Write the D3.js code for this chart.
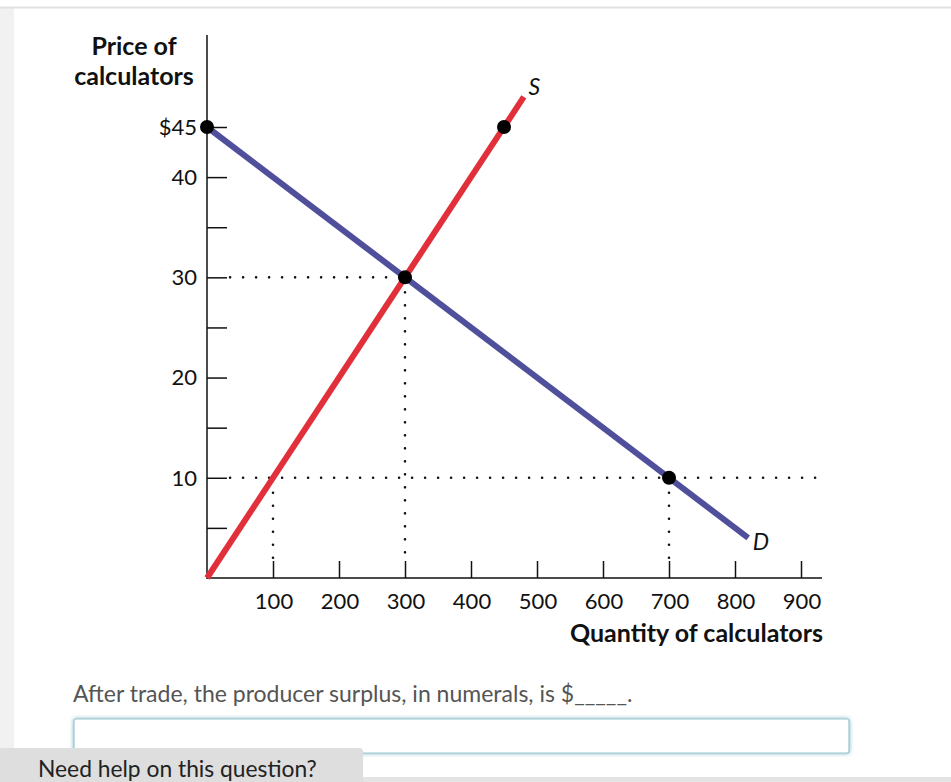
<!DOCTYPE html>
<html><head><meta charset="utf-8">
<script src="https://cdn.jsdelivr.net/npm/d3@7"></script>
<style>
html,body{margin:0;padding:0;background:#fff;}
svg{display:block;font-family:"Source Sans Pro","Lato","Noto Sans",sans-serif;}
</style></head>
<body>
<svg id="c" width="951" height="782"></svg>
<script>
// ---- data ----
const xTickValues = [100,200,300,400,500,600,700,800,900];
const yTickValues = [5,10,15,20,25,30,35,40,45];
const yTickLabels = {45:"$45",40:"40",30:"30",20:"20",10:"10"};
const supplyQ = [0, 480];
const supplyP = [0, 48];
const demandQ = [0, 820];
const demandP = [45, 4];
const pointQ = [0, 450, 300, 700];
const pointP = [45, 45, 30, 10];
const question = "After trade, the producer surplus, in numerals, is $_____.";

const svg = d3.select("#c");
// page chrome
svg.append("rect").attr("x",0).attr("y",0).attr("width",951).attr("height",782).attr("fill","#fff");
svg.append("rect").attr("x",0).attr("y",8).attr("width",14).attr("height",774).attr("fill","#f1f1f1");
svg.append("line").attr("x1",0).attr("x2",951).attr("y1",7.5).attr("y2",7.5).attr("stroke","#e2e2e2").attr("stroke-width",2);
svg.append("rect").attr("x",0).attr("y",777).attr("width",951).attr("height",5).attr("fill","#e4e4e4");

const x = d3.scaleLinear().domain([0,900]).range([207,801]);
const y = d3.scaleLinear().domain([0,45]).range([578,127]);

const g = svg.append("g");
// dotted guides
const dot = (q1,p1,q2,p2)=>g.append("line")
  .attr("x1",x(q1)).attr("y1",y(p1)).attr("x2",x(q2)).attr("y2",y(p2))
  .attr("stroke","#111").attr("stroke-width",2.6).attr("stroke-linecap","round")
  .attr("stroke-dasharray","0,13");
dot(0+35,30,300,30);
dot(300,30-1.5,300,0+1.5);
dot(0+35,10,925,10);
dot(100,10-1.5,100,0+1.5);
dot(700,10-1.5,700,0+1.5);

// axes
const yAxis = d3.axisRight(y).tickValues(yTickValues).tickSize(20).tickFormat("");
const ya = g.append("g").attr("transform",`translate(${x(0)},0)`).call(yAxis);
ya.select(".domain").remove();
ya.selectAll("line").attr("stroke","#111").attr("stroke-width",1.5);
g.append("line").attr("x1",x(0)).attr("x2",x(0)).attr("y1",35).attr("y2",579).attr("stroke","#111").attr("stroke-width",1.5);

const xAxis = d3.axisTop(x).tickValues(xTickValues).tickSize(17).tickFormat("");
const xa = g.append("g").attr("transform",`translate(0,${y(0)})`).call(xAxis);
xa.select(".domain").remove();
xa.selectAll("line").attr("stroke","#111").attr("stroke-width",1.5);
g.append("line").attr("x1",x(0)).attr("x2",822).attr("y1",y(0)).attr("y2",y(0)).attr("stroke","#111").attr("stroke-width",1.5);

// tick labels
g.selectAll(".yl").data(Object.keys(yTickLabels).map(Number)).enter().append("text")
  .attr("x",197).attr("y",d=>y(d)).attr("dy","0.36em").attr("text-anchor","end")
  .attr("font-size",22).attr("fill","#111").text(d=>yTickLabels[d]);
g.selectAll(".xl").data(xTickValues).enter().append("text")
  .attr("x",d=>x(d)+1).attr("y",609).attr("text-anchor","middle")
  .attr("font-size",22).attr("fill","#111").text(d=>d);

// axis titles
const yt = g.append("text").attr("x",134).attr("font-size",25).attr("font-weight","bold").attr("fill","#111").attr("text-anchor","middle");
yt.append("tspan").attr("x",134).attr("y",55).text("Price of");
yt.append("tspan").attr("x",134).attr("y",85).text("calculators");
g.append("text").attr("x",823).attr("y",642).attr("text-anchor","end").attr("font-size",25).attr("font-weight","bold").attr("fill","#111").text("Quantity of calculators");

// curves
const line = d3.line().x(d=>x(d[0])).y(d=>y(d[1]));
g.append("path").datum(demandQ.map((q,i)=>[q,demandP[i]])).attr("d",line)
  .attr("stroke","#4f4f9c").attr("stroke-width",6).attr("fill","none");
g.append("path").datum(supplyQ.map((q,i)=>[q,supplyP[i]])).attr("d",line)
  .attr("stroke","#e2303b").attr("stroke-width",6).attr("fill","none");

// curve labels
g.append("text").attr("x",x(487)).attr("y",y(47.7)-5).attr("font-size",23).attr("font-style","italic").attr("fill","#111").text("S");
g.append("text").attr("x",x(827)).attr("y",y(3.3)+5).attr("font-size",23).attr("font-style","italic").attr("fill","#111").text("D");

// points
g.selectAll(".pt").data(pointQ.map((q,i)=>[q,pointP[i]])).enter().append("circle")
  .attr("cx",d=>x(d[0])).attr("cy",d=>y(d[1])).attr("r",7).attr("fill","#000");

// question
svg.append("text").attr("x",73).attr("y",702).attr("font-size",23).attr("fill","#555").text(question);
// input box
const defs = svg.append("defs");
const f = defs.append("filter").attr("id","glow").attr("x","-5%").attr("y","-40%").attr("width","110%").attr("height","180%");
f.append("feGaussianBlur").attr("in","SourceAlpha").attr("stdDeviation",2).attr("result","b");
f.append("feFlood").attr("flood-color","#7fb6c4").attr("result","c");
f.append("feComposite").attr("in","c").attr("in2","b").attr("operator","in").attr("result","s");
const m = f.append("feMerge"); m.append("feMergeNode").attr("in","s"); m.append("feMergeNode").attr("in","SourceGraphic");
svg.append("rect").attr("x",74).attr("y",719).attr("width",775).attr("height",34).attr("rx",2)
  .attr("fill","#fff").attr("stroke","#9cc7d2").attr("stroke-width",1.2).attr("filter","url(#glow)");

// help tab
svg.append("path").attr("d","M0,748 H359 a4,4 0 0 1 4,4 V782 H0 Z").attr("fill","#dedede");
svg.append("text").attr("x",38).attr("y",777).attr("font-size",22.8).attr("fill","#222").text("Need help on this question?");
</script>
</body></html>
